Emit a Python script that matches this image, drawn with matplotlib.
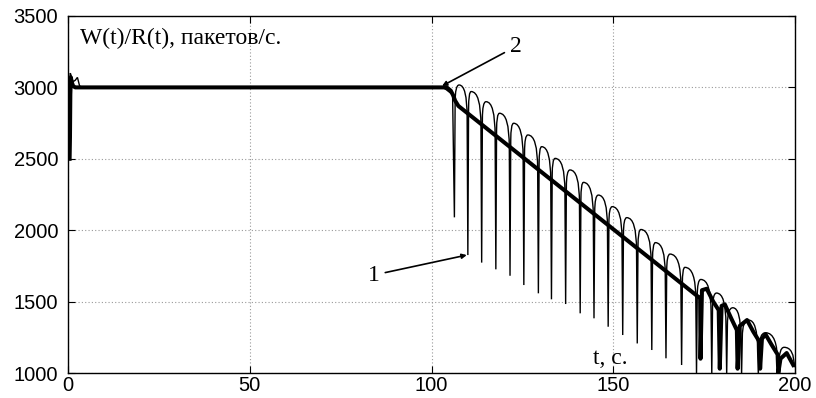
import matplotlib
matplotlib.use('Agg')
import matplotlib.pyplot as plt
from matplotlib.path import Path
from matplotlib.patches import PathPatch

# thick curve (2): averaged rate
thick_t = [0.45, 0.55, 0.65, 0.8, 1.0, 1.4, 2.0, 104.2, 105.3, 106.0, 106.5, 107.4,
           173.9, 174.0, 174.4, 175.7, 177.5, 179.0, 179.3, 179.8, 180.7, 182.5,
           184.0, 184.2, 184.8, 186.8, 188.5, 190.2, 190.4, 190.9, 191.9, 193.5,
           195.2, 195.4, 196.0, 197.7, 199.5]
thick_v = [2500, 2650, 2950, 3070, 3040, 3010, 3000, 3000, 2977, 2942, 2907, 2870,
           1523, 1100, 1580, 1590, 1500, 1440, 1030, 1470, 1480, 1380,
           1300, 1030, 1330, 1371, 1290, 1220, 1030, 1240, 1270, 1200,
           1130, 1000, 1100, 1140, 1056]

# thin curve (1): start and flat part
thin_head_t = [0.1, 0.25, 0.45, 0.65, 0.9, 1.4, 2.0, 2.6, 3.2, 4.0, 103.0, 104.0, 105.0, 105.8]
thin_head_v = [2480, 2800, 3060, 3100, 3080, 3040, 3050, 3070, 3010, 3000, 3000, 2985, 2965, 2950]

# thin curve (1): oscillations - dips, arch peaks, arch ends
dip_t = [106.3, 110.0, 113.8, 117.7, 121.6, 125.4, 129.4, 133.0, 136.9, 140.9, 144.7,
         148.6, 152.6, 156.6, 160.6, 164.5, 168.8, 172.9, 177.1, 181.2, 185.3, 189.9, 195.4]
dip_v = [2090, 1826, 1773, 1726, 1681, 1616, 1558, 1516, 1483, 1418, 1383,
         1324, 1266, 1207, 1161, 1103, 1056, 990, 990, 990, 990, 990, 990]
peak_t = [107.6, 110.9, 115.0, 118.7, 122.6, 126.5, 130.3, 134.0, 138.1, 141.8, 145.9,
          149.7, 153.7, 157.6, 161.6, 165.6, 169.7, 174.1, 178.4, 182.9, 187.2, 191.9, 197.0]
peak_v = [3017, 2971, 2900, 2819, 2749, 2667, 2585, 2503, 2422, 2335, 2246,
          2165, 2088, 2005, 1913, 1833, 1740, 1655, 1560, 1457, 1371, 1282, 1180]
end_v = [2790, 2730, 2660, 2580, 2510, 2430, 2350, 2270, 2190, 2100, 2020,
         1940, 1860, 1780, 1690, 1610, 1520, 1430, 1340, 1240, 1160, 1070, 1040]
last_t = 199.8

xticks = [0, 50, 100, 150, 200]
yticks = [1000, 1500, 2000, 2500, 3000, 3500]

serif = ['Liberation Serif', 'DejaVu Serif']
plt.rcParams['font.family'] = ['Liberation Sans', 'DejaVu Sans']

fig = plt.figure(figsize=(8.16, 3.98), dpi=100)
ax = fig.add_axes([0.0833, 0.0628, 0.891, 0.897])

# build thin curve path: narrow V dips, rounded arches between them
w = 0.2
verts = [(thin_head_t[0], thin_head_v[0])]
codes = [Path.MOVETO]
for t, v in zip(thin_head_t[1:], thin_head_v[1:]):
    verts.append((t, v))
    codes.append(Path.LINETO)
n = len(dip_t)
for i in range(n):
    d, dv, p, pv, ev = dip_t[i], dip_v[i], peak_t[i], peak_v[i], end_v[i]
    d2 = dip_t[i + 1] - w if i + 1 < n else last_t
    verts += [(d, dv), (d + w, pv - 120)]
    codes += [Path.LINETO, Path.LINETO]
    verts += [(d + w, pv), (p, pv)]
    codes += [Path.CURVE3, Path.CURVE3]
    verts += [(d2, pv), (d2, ev)]
    codes += [Path.CURVE3, Path.CURVE3]
ax.add_patch(PathPatch(Path(verts, codes), fill=False, ec='black', lw=1.0, zorder=3))

ax.plot(thick_t, thick_v, color='black', lw=2.9, solid_joinstyle='round', zorder=4)

ax.set_xlim(0, 200)
ax.set_ylim(1000, 3500)
ax.set_xticks(xticks)
ax.set_yticks(yticks)
ax.tick_params(direction='in', top=True, right=True, length=5, labelsize=14.5, colors='black')
ax.tick_params(axis='x', pad=2)
ax.tick_params(axis='y', pad=7)
ax.grid(True, color='#999999', linestyle=(0, (1, 2)), lw=0.8)
for s in ax.spines.values():
    s.set_linewidth(1.0)

ax.text(3.3, 3345, 'W(t)/R(t), пакетов/с.', family=serif, fontsize=17, va='center', ha='left')
ax.text(144.4, 1105, 't, с.', family=serif, fontsize=17, va='center', ha='left')

ax.annotate('2', xy=(102.9, 3010), xytext=(121.5, 3285), family=serif, fontsize=17,
            va='center', ha='left',
            arrowprops=dict(arrowstyle='-|>', color='black', lw=1.2, mutation_scale=7,
                            shrinkA=2, shrinkB=0))
ax.annotate('1', xy=(109.7, 1826), xytext=(82.5, 1686), family=serif, fontsize=17,
            va='center', ha='left',
            arrowprops=dict(arrowstyle='-|>', color='black', lw=1.2, mutation_scale=7,
                            shrinkA=2, shrinkB=0))

fig.savefig('out.png', dpi=100)
